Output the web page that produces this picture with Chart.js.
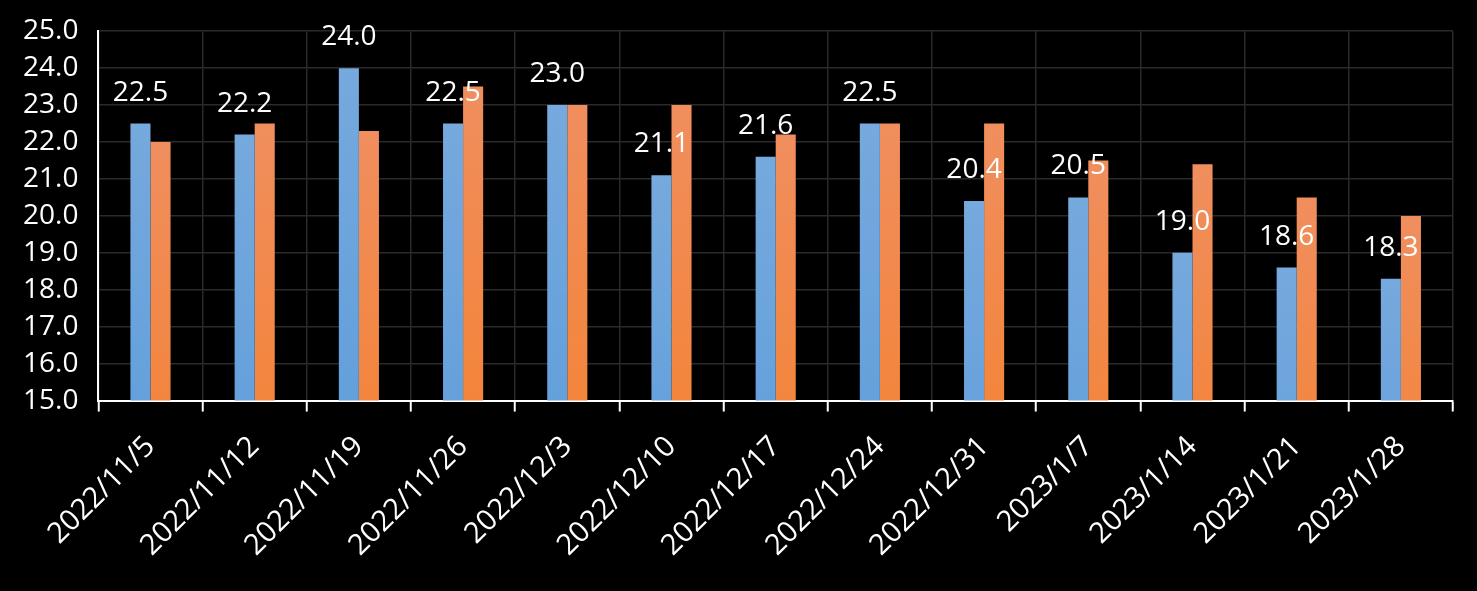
<!DOCTYPE html>
<html>
<head>
<meta charset="utf-8">
<script src="https://cdn.jsdelivr.net/npm/chart.js@4"></script>
<style>
  html, body { margin: 0; padding: 0; background: #000; }
  #wrap { width: 1477px; height: 591px; }
</style>
</head>
<body>
<div id="wrap"><canvas id="barChart"></canvas></div>
<script>
// week labels
const weeks = ['2022/11/5', '2022/11/12', '2022/11/19', '2022/11/26', '2022/12/3', '2022/12/10',
  '2022/12/17', '2022/12/24', '2022/12/31', '2023/1/7', '2023/1/14', '2023/1/21', '2023/1/28'];
// blue series (labelled)
const blueValues = [22.5, 22.2, 24.0, 22.5, 23.0, 21.1, 21.6, 22.5, 20.4, 20.5, 19.0, 18.6, 18.3];
// orange series
const orangeValues = [22.0, 22.5, 22.3, 23.5, 23.0, 23.0, 22.2, 22.5, 22.5, 21.5, 21.4, 20.5, 20.0];

const FONT = "'Open Sans', 'Noto Sans', sans-serif";

// gradient stops per series: top, middle, bottom
const gradStops = [
  ['#76a9dd', '#5a9bdb', '#4386c5'],
  ['#f08e5e', '#f58028', '#e36a18']
];

// per-bar vertical gradient, like the office chart fill
const barGradient = {
  id: 'barGradient',
  beforeDatasetsDraw(chart) {
    const c = chart.ctx;
    chart.data.datasets.forEach((ds, i) => {
      const stops = gradStops[i];
      chart.getDatasetMeta(i).data.forEach(bar => {
        const g = c.createLinearGradient(0, bar.y, 0, bar.base);
        g.addColorStop(0, stops[0]);
        g.addColorStop(0.55, stops[1]);
        g.addColorStop(1, stops[2]);
        // own options object per bar, the resolved ones are shared
        bar.options = Object.assign({}, bar.options, { backgroundColor: g });
      });
    });
  }
};

// value labels above the blue bars
const valueLabels = {
  id: 'valueLabels',
  afterDatasetsDraw(chart) {
    const c = chart.ctx;
    const meta = chart.getDatasetMeta(0);
    c.save();
    c.fillStyle = '#ffffff';
    c.font = '28px ' + FONT;
    c.textAlign = 'center';
    c.textBaseline = 'middle';
    meta.data.forEach((bar, i) => {
      c.fillText(blueValues[i].toFixed(1), bar.x, bar.y - 31);
    });
    c.restore();
  }
};

const canvas = document.getElementById('barChart');
new Chart(canvas.getContext('2d'), {
  type: 'bar',
  data: {
    labels: weeks,
    datasets: [
      { data: blueValues, backgroundColor: gradStops[0][1], borderWidth: 0 },
      { data: orangeValues, backgroundColor: gradStops[1][1], borderWidth: 0 }
    ]
  },
  options: {
    responsive: true,
    maintainAspectRatio: false,
    animation: false,
    datasets: {
      bar: { barPercentage: 1, categoryPercentage: 0.385 }
    },
    layout: { padding: { top: -4, right: 24, left: 3, bottom: 10 } },
    plugins: {
      legend: { display: false },
      tooltip: { enabled: false }
    },
    scales: {
      x: {
        grid: {
          color: '#2a2a2a',
          lineWidth: 1.5,
          tickColor: '#ffffff',
          tickLength: 11,
          tickWidth: 2
        },
        border: { color: '#ffffff', width: 2 },
        ticks: {
          color: '#ffffff',
          font: { family: FONT, size: 29 },
          minRotation: 45,
          maxRotation: 45,
          padding: 18
        }
      },
      y: {
        min: 15,
        max: 25,
        grid: {
          color: '#2a2a2a',
          lineWidth: 1.5,
          drawTicks: false
        },
        border: { color: '#ffffff', width: 2 },
        ticks: {
          stepSize: 1,
          autoSkip: false,
          color: '#ffffff',
          font: { family: FONT, size: 28, lineHeight: 0.8 },
          padding: 20,
          callback: v => Number(v).toFixed(1)
        }
      }
    }
  },
  plugins: [barGradient, valueLabels]
});
</script>
</body>
</html>
